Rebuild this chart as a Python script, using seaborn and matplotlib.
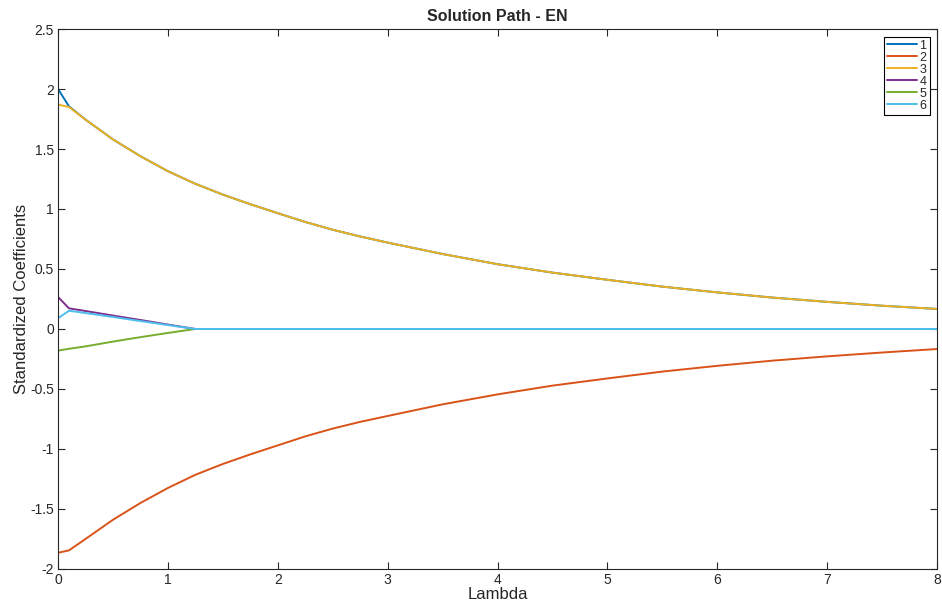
import matplotlib
matplotlib.use("Agg")
import matplotlib.pyplot as plt
import seaborn as sns
import pandas as pd

lam = [0, 0.1, 0.25, 0.5, 0.75, 1.0, 1.25, 1.5, 1.75, 2.0, 2.25, 2.5, 2.75, 3.0,
       3.5, 4.0, 4.5, 5.0, 5.5, 6.0, 6.5, 7.0, 7.5, 8.0]
s1 = [2.0, 1.855, 1.745, 1.58, 1.44, 1.315, 1.21, 1.12, 1.04, 0.965, 0.892, 0.827,
      0.771, 0.72, 0.625, 0.54, 0.47, 0.41, 0.353, 0.305, 0.262, 0.226, 0.194, 0.167]
s2 = [-1.865, -1.845, -1.75, -1.59, -1.45, -1.325, -1.215, -1.125, -1.045, -0.97,
      -0.895, -0.83, -0.774, -0.725, -0.628, -0.545, -0.472, -0.412, -0.355,
      -0.307, -0.264, -0.228, -0.196, -0.167]
s3 = [1.87, 1.85, 1.745, 1.58, 1.44, 1.315, 1.21, 1.12, 1.04, 0.965, 0.892, 0.827,
      0.771, 0.72, 0.625, 0.54, 0.47, 0.41, 0.353, 0.305, 0.262, 0.226, 0.194, 0.167]
s4 = [0.267, 0.172, 0.15, 0.112, 0.075, 0.037, 0, 0, 0, 0, 0, 0, 0, 0, 0, 0, 0,
      0, 0, 0, 0, 0, 0, 0]
s5 = [-0.18, -0.165, -0.145, -0.105, -0.068, -0.033, 0, 0, 0, 0, 0, 0, 0, 0, 0,
      0, 0, 0, 0, 0, 0, 0, 0, 0]
s6 = [0.09, 0.152, 0.133, 0.1, 0.066, 0.033, 0, 0, 0, 0, 0, 0, 0, 0, 0, 0, 0,
      0, 0, 0, 0, 0, 0, 0]
names = ["1", "2", "3", "4", "5", "6"]
colors = ["#0072BD", "#D95319", "#EDB120", "#7E2F8E", "#77AC30", "#4DBEEE"]

rows = []
for name, vals in zip(names, [s1, s2, s3, s4, s5, s6]):
    for x, y in zip(lam, vals):
        rows.append({"Lambda": x, "coef": y, "series": name})
df = pd.DataFrame(rows)

sns.set_style("ticks")
plt.rcParams["font.family"] = ["Liberation Sans", "DejaVu Sans"]

fig = plt.figure(figsize=(9.42, 6.12), dpi=100)
ax = fig.add_axes([0.0616, 0.0703, 0.9331, 0.8823])

sns.lineplot(data=df, x="Lambda", y="coef", hue="series", hue_order=names,
             palette=colors, sort=False, estimator=None, linewidth=1.4, ax=ax)

ax.set_xlim(0, 8)
ax.set_ylim(-2, 2.5)
ax.set_xticks(range(0, 9))
ax.set_xticklabels([str(i) for i in range(0, 9)])
yt = [-2, -1.5, -1, -0.5, 0, 0.5, 1, 1.5, 2, 2.5]
ax.set_yticks(yt)
ax.set_yticklabels(["-2", "-1.5", "-1", "-0.5", "0", "0.5", "1", "1.5", "2", "2.5"])
ax.tick_params(direction="in", top=True, right=True, length=5, width=0.8,
               labelsize=10, colors="#262626", pad=3)
for s in ax.spines.values():
    s.set_visible(True)
    s.set_color("#262626")
    s.set_linewidth(0.8)

ax.set_xlabel("Lambda", fontsize=12, labelpad=0)
ax.set_ylabel("Standardized Coefficients", fontsize=12, labelpad=1)
ax.set_title("Solution Path - EN", fontsize=11.5, fontweight="bold", pad=6)

leg = ax.legend(loc="upper right", fontsize=9, frameon=True, fancybox=False,
                framealpha=1, edgecolor="black", handlelength=2.4,
                handletextpad=0.2, labelspacing=0.0, borderpad=0.25,
                borderaxespad=0.6)
leg.get_frame().set_linewidth(0.8)

fig.savefig("out.png", dpi=100)
